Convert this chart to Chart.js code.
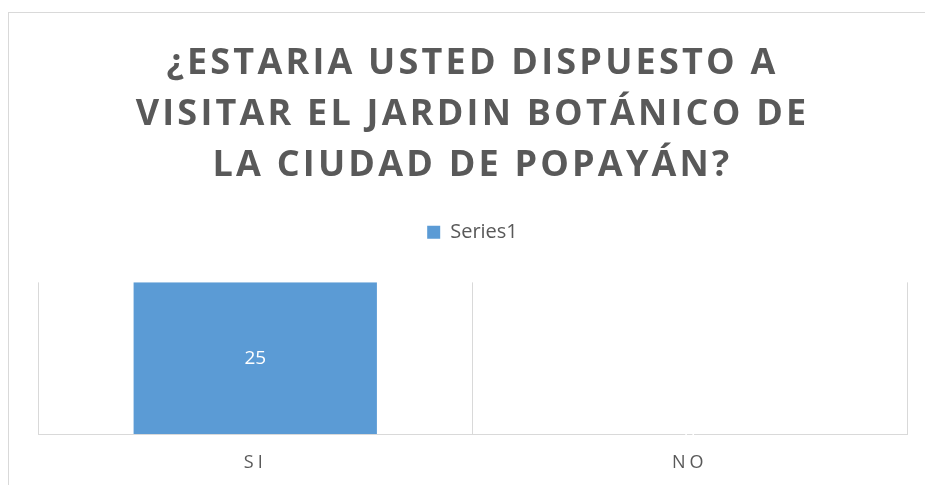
<!DOCTYPE html>
<html>
<head>
<meta charset="utf-8">
<script src="https://cdn.jsdelivr.net/npm/chart.js@4.4.1/dist/chart.umd.min.js"></script>
<style>
  html, body { margin: 0; padding: 0; background: #fff; }
  #wrap { position: relative; width: 925px; height: 485px; }
  #frame { position: absolute; left: 8px; top: 12px; right: 0; bottom: 0;
           border-left: 1px solid #d9d9d9; border-top: 1px solid #d9d9d9; }
  canvas { position: absolute; left: 0; top: 0; }
</style>
</head>
<body>
<div id="wrap">
  <div id="frame"></div>
  <canvas id="chart" width="925" height="485"></canvas>
</div>
<script>
const categories = ['SI', 'NO'];
const seriesValues = [25, 0];
const seriesName = 'Series1';
const titleLines = ['¿ESTARIA USTED DISPUESTO A', 'VISITAR EL JARDIN BOTÁNICO DE', 'LA CIUDAD DE POPAYÁN?'];

const textGray = '#595959';
const gridGray = '#d9d9d9';
const barBlue = '#5B9BD5';

// letter spacing for the title and the category labels, like the Excel look
const spacingPlugin = {
  id: 'spacing',
  beforeLayout(chart) {
    // leave some room under the legend before the plot starts
    const lg = chart.legend;
    if (lg && !lg._padded) {
      const origFit = lg.fit.bind(lg);
      lg.fit = function () {
        origFit();
        this.height += 30;
      };
      lg._padded = true;
    }
  },
  afterLayout(chart) {
    const t = chart.titleBlock;
    if (t && !t._spaced) {
      const orig = t.draw.bind(t);
      t.draw = function () {
        chart.ctx.letterSpacing = '3.2px';
        orig();
        chart.ctx.letterSpacing = '0px';
      };
      t._spaced = true;
    }
    const x = chart.scales.x;
    if (x && !x._spaced) {
      const origLabels = x.drawLabels.bind(x);
      x.drawLabels = function (area) {
        chart.ctx.letterSpacing = '4px';
        origLabels(area);
        chart.ctx.letterSpacing = '0px';
      };
      x._spaced = true;
    }
  }
};

// value labels centred in each bar
const valueLabels = {
  id: 'valueLabels',
  afterDatasetsDraw(chart) {
    const ctx = chart.ctx;
    const meta = chart.getDatasetMeta(0);
    ctx.save();
    ctx.fillStyle = '#ffffff';
    ctx.font = '19px "Open Sans"';
    ctx.textAlign = 'center';
    ctx.textBaseline = 'middle';
    meta.data.forEach((bar, i) => {
      const y = (bar.y + bar.base) / 2;
      ctx.fillText(String(seriesValues[i]), bar.x, y);
    });
    ctx.restore();
  }
};

new Chart(document.getElementById('chart'), {
  type: 'bar',
  data: {
    labels: categories,
    datasets: [{
      label: seriesName,
      data: seriesValues,
      backgroundColor: barBlue,
      borderWidth: 0,
      categoryPercentage: 0.56,
      barPercentage: 1
    }]
  },
  options: {
    responsive: false,
    animation: false,
    layout: { padding: { top: 22, left: 38, right: 18, bottom: 0 } },
    plugins: {
      title: {
        display: true,
        text: titleLines,
        color: textGray,
        font: { family: 'Open Sans', size: 36, weight: 'bold', lineHeight: 1.42 },
        padding: { top: 16, bottom: 21 }
      },
      legend: {
        display: true,
        labels: {
          color: textGray,
          font: { family: 'Open Sans', size: 20 },
          boxWidth: 13,
          boxHeight: 13,
          padding: 10
        }
      },
      tooltip: { enabled: false }
    },
    scales: {
      x: {
        grid: { color: gridGray, drawTicks: false, offset: true },
        border: { color: gridGray },
        ticks: { color: textGray, font: { family: 'Open Sans', size: 18 }, padding: 18 },
        afterFit(scale) { scale.height = 51; }
      },
      y: {
        display: false,
        min: 0,
        max: 25
      }
    }
  },
  plugins: [spacingPlugin, valueLabels]
});
</script>
</body>
</html>
